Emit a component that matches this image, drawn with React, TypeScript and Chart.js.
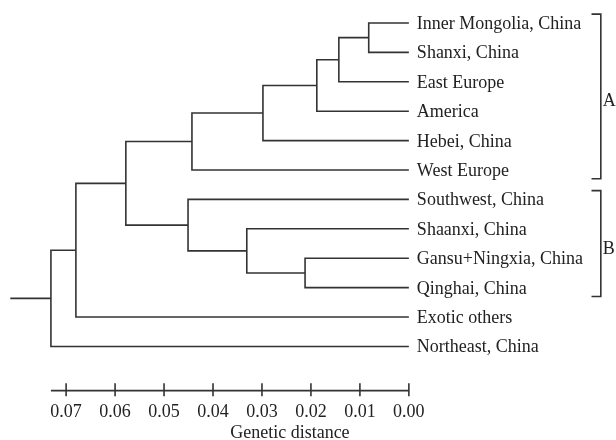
import React, { useEffect, useRef } from "react";
import { Chart, registerables } from "chart.js";
Chart.register(...registerables);

// Leaves (top to bottom)
const leaves = [
  "Inner Mongolia, China",
  "Shanxi, China",
  "East Europe",
  "America",
  "Hebei, China",
  "West Europe",
  "Southwest, China",
  "Shaanxi, China",
  "Gansu+Ningxia, China",
  "Qinghai, China",
  "Exotic others",
  "Northeast, China",
];

// Merges: "L#" = leaf index, "M#" = merge index
const mergeUpper = ["L0", "M0", "M1", "M2", "M3", "L8", "L7", "L6", "M4", "M8", "M9"];
const mergeLower = ["L1", "L2", "L3", "L4", "L5", "L9", "M5", "M6", "M7", "L10", "L11"];
const mergeHeight = [0.0082, 0.0143, 0.0188, 0.0298, 0.0443, 0.0212, 0.0331, 0.0451, 0.0578, 0.068, 0.0731];
const rootStubEnd = 0.0814;

// Axis ticks
const tickValues = [0.07, 0.06, 0.05, 0.04, 0.03, 0.02, 0.01, 0.0];
const tickLabels = ["0.07", "0.06", "0.05", "0.04", "0.03", "0.02", "0.01", "0.00"];
const axisTitle = "Genetic distance";

// Groups
const groupNames = ["A", "B"];
const groupFirst = [0, 6];
const groupLast = [5, 9];

const LINE = "#333333";
const TEXT = "#222222";
const FONT = '18px "Liberation Serif", "Times New Roman", serif';

export default function App() {
  const ref = useRef<HTMLCanvasElement>(null);

  useEffect(() => {
    document.body.style.margin = "0";
    const pos = (id: string): { x: number; y: number } => {
      const k = parseInt(id.slice(1), 10);
      if (id[0] === "L") return { x: 0, y: k };
      const a = pos(mergeUpper[k]);
      const b = pos(mergeLower[k]);
      return { x: mergeHeight[k], y: (a.y + b.y) / 2 };
    };

    const lineDs = (data: { x: number; y: number }[]) => ({
      type: "scatter" as const,
      data,
      showLine: true,
      borderColor: LINE,
      backgroundColor: LINE,
      borderWidth: 1.6,
      pointRadius: 0,
      borderJoinStyle: "miter" as const,
      tension: 0,
    });

    const datasets: any[] = [];
    mergeHeight.forEach((h, k) => {
      const a = pos(mergeUpper[k]);
      const b = pos(mergeLower[k]);
      datasets.push(
        lineDs([
          { x: a.x, y: a.y },
          { x: h, y: a.y },
          { x: h, y: b.y },
          { x: b.x, y: b.y },
        ])
      );
    });
    const root = pos("M" + (mergeHeight.length - 1));
    datasets.push(lineDs([{ x: root.x, y: root.y }, { x: rootStubEnd, y: root.y }]));

    // brackets
    const bx0 = -0.0373;
    const bx1 = -0.0392;
    groupNames.forEach((_, g) => {
      const t = groupFirst[g] - 0.3;
      const b = groupLast[g] + 0.3;
      datasets.push(
        lineDs([
          { x: bx0, y: t },
          { x: bx1, y: t },
          { x: bx1, y: b },
          { x: bx0, y: b },
        ])
      );
    });

    // axis
    const axisRow = 12.5;
    const axisMax = mergeHeight[mergeHeight.length - 1];
    datasets.push(lineDs([{ x: 0, y: axisRow }, { x: axisMax, y: axisRow }]));
    datasets.push({
      type: "scatter",
      data: tickValues.map((v) => ({ x: v, y: axisRow - 0.03 })),
      pointStyle: "line",
      rotation: 90,
      pointRadius: 6.5,
      borderWidth: 1.6,
      borderColor: LINE,
      backgroundColor: LINE,
      showLine: false,
    });

    const textPlugin = {
      id: "dendroText",
      afterDatasetsDraw(chart: any) {
        const ctx = chart.ctx;
        const xs = chart.scales.x;
        const ys = chart.scales.y;
        ctx.save();
        ctx.fillStyle = TEXT;
        ctx.font = FONT;
        ctx.textBaseline = "alphabetic";
        ctx.textAlign = "left";
        const lx = xs.getPixelForValue(0) + 8;
        leaves.forEach((name, i) => {
          ctx.fillText(name, lx, ys.getPixelForValue(i) + 6);
        });
        // group letters
        groupNames.forEach((n, g) => {
          const mid = (groupFirst[g] + groupLast[g]) / 2;
          ctx.fillText(n, xs.getPixelForValue(bx1) + 2, ys.getPixelForValue(mid) + 10);
        });
        // tick labels
        ctx.textAlign = "center";
        tickValues.forEach((v, i) => {
          ctx.fillText(tickLabels[i], xs.getPixelForValue(v), ys.getPixelForValue(axisRow) + 26);
        });
        ctx.fillText(axisTitle, xs.getPixelForValue(0.0243), ys.getPixelForValue(axisRow) + 47);
        ctx.restore();
      },
    };

    const chart = new Chart(ref.current!, {
      type: "scatter",
      data: { datasets },
      options: {
        animation: false,
        responsive: false,
        events: [],
        layout: { padding: 0, autoPadding: false },
        plugins: { legend: { display: false }, tooltip: { enabled: false } },
        scales: {
          x: { type: "linear", display: false, reverse: true, min: -0.0423, max: 0.0835 },
          y: { type: "linear", display: false, reverse: true, min: -0.78, max: 14.18 },
        },
      },
      plugins: [textPlugin],
    });
    return () => chart.destroy();
  }, []);

  return (
    <div style={{ width: 616, height: 440 }}>
      <canvas ref={ref} width={616} height={440} style={{ display: "block" }} />
    </div>
  );
}
